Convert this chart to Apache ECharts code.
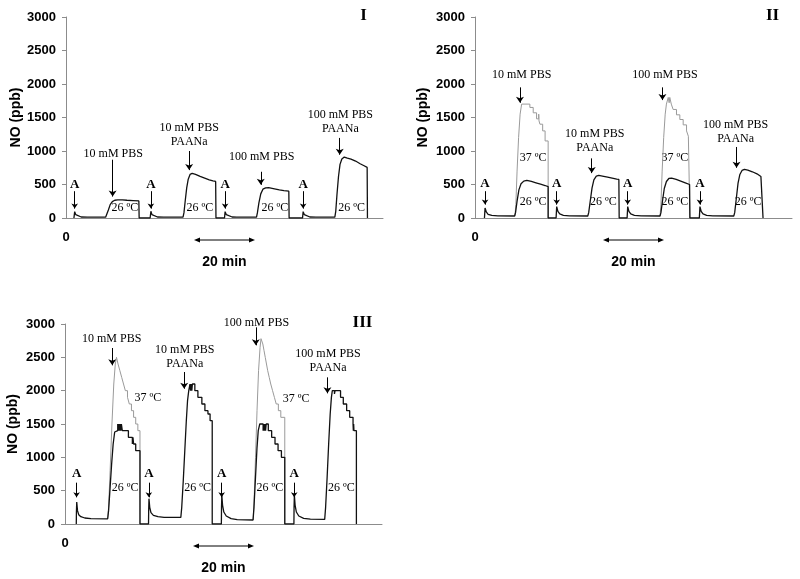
<!DOCTYPE html>
<html>
<head>
<meta charset="utf-8">
<script src="https://cdn.jsdelivr.net/npm/echarts@6/dist/echarts.min.js"></script>
<style>
html, body { margin: 0; padding: 0; background: #fff; }
#main { width: 800px; height: 579px; }
</style>
</head>
<body>
<div id="main"></div>
<script>
// x = time (min), y = NO (ppb)
const sans = '"Liberation Sans", Arial, sans-serif'
const serif = '"Liberation Serif", "Times New Roman", serif'

const yTicks = { min: 0, max: 3000, step: 500 }
const xRange = { min: 0, max: 104 }
const scaleBar = [42, 62] // 20 min

// panel I : 26 C only
const traceIBlack = [
  [2.6,0],[2.85,95],[3.2,50],[3.8,25],[5,15],[7,12],[13.0,12],[13.4,40],[13.9,120],[14.5,200],[15.2,245],[16.0,265],[17.0,272],[18.5,270],[20,265],[22,260],[23.9,255],[24.0,0],
  [27.6,0],[27.85,100],[28.2,50],[28.8,25],[30,15],[32,12],[38.4,12],[38.7,80],[39.1,250],[39.6,450],[40.1,580],[40.7,650],[41.4,665],[42.5,650],[44,620],[45.5,595],[47,570],[48.2,555],[49.1,545],[49.2,0],
  [52.0,0],[52.2,95],[52.6,50],[53.2,25],[54.5,15],[56,12],[62.5,12],[62.8,80],[63.3,230],[63.9,360],[64.6,430],[65.5,450],[66.5,452],[68,440],[70,420],[71.5,410],[73.1,400],[73.2,0],
  [77.6,0],[77.8,95],[78.2,50],[78.8,25],[80,15],[82,12],[88.2,12],[88.5,100],[88.9,350],[89.4,620],[89.9,800],[90.5,880],[91.3,910],[92.3,895],[93.5,880],[95,850],[96.5,810],[97.8,780],[98.8,755],[98.9,0]
]

// panel II : 26 C (black) and 37 C (grey)
const traceIIBlack = [
  [3.1,0],[3.3,150],[3.7,90],[4.3,55],[5.5,40],[7.5,32],[13.0,30],[13.3,80],[13.8,250],[14.4,420],[15.1,510],[16.0,550],[17.0,560],[18.5,545],[20,525],[21.5,505],[23,485],[24.0,470],[24.0,0],
  [26.6,0],[26.8,170],[27.2,100],[27.8,60],[29,40],[31,32],[37.0,30],[37.3,80],[37.8,250],[38.4,450],[39.0,570],[39.8,625],[40.6,635],[41.8,625],[43.5,610],[45,595],[46.5,580],[47.2,575],[47.3,0],
  [49.9,0],[50.1,170],[50.5,100],[51.1,60],[52.3,40],[54.5,32],[60.7,30],[61.0,80],[61.5,250],[62.1,440],[62.8,545],[63.6,590],[64.5,595],[66,575],[67.5,550],[69,525],[70.4,500],[70.5,0],
  [73.6,0],[73.8,170],[74.2,100],[74.8,60],[76,40],[78,32],[84.9,30],[85.2,80],[85.7,280],[86.3,520],[86.9,650],[87.6,710],[88.4,725],[89.5,715],[91,690],[92.5,660],[93.8,620],[94.4,600],[94.5,0]
]
const traceIIGrey = [
  [13.1,30],[13.4,200],[13.8,700],[14.3,1200],[14.8,1550],[15.3,1700],[18.0,1700],[18.0,1650],[19.1,1650],[19.1,1570],[20.2,1570],[20.2,1480],[20.9,1480],[20.9,1550],[21.0,1450],[21.3,1450],[21.3,1400],[22.2,1400],[22.2,1300],[23.0,1300],[23.0,1150],[24.0,1150],[24.0,0],
  [24.1,'-'],
  [60.7,30],[61.0,200],[61.4,700],[61.9,1200],[62.4,1550],[62.8,1700],[63.4,1700],[63.4,1800],[63.7,1800],[63.7,1720],[63.9,1800],[64.4,1800],[64.4,1700],[65.0,1700],[65.0,1620],[66.1,1620],[66.1,1540],[67.2,1540],[67.2,1470],[68.3,1470],[68.3,1390],[69.4,1390],[69.4,1300],[70.0,1300],[70.0,1220],[70.5,1220],[70.5,0]
]

// panel III : 26 C (black) and 37 C (grey)
const traceIIIBlack = [
  [3.7,0],[3.75,180],[3.85,330],[4.1,200],[4.5,140],[5.2,110],[6.5,90],[8.5,80],[14.0,78],[14.3,200],[14.8,550],[15.3,900],[15.8,1200],[16.3,1380],[16.6,1400],[17.3,1400],[17.3,1500],[17.5,1500],[17.5,1400],[17.7,1400],[17.7,1500],[17.9,1500],[17.9,1400],[18.1,1400],[18.1,1500],[18.3,1500],[18.3,1400],[18.5,1400],[18.5,1500],[18.8,1500],[18.8,1400],[20.8,1400],[20.8,1300],[22.1,1300],[22.1,1200],[22.3,1200],[22.3,1300],[22.5,1300],[22.5,1200],[23.2,1200],[23.2,1100],[24.6,1100],[24.6,0],
  [27.4,0],[27.45,200],[27.55,380],[27.8,250],[28.2,170],[29,130],[30.5,110],[32.5,100],[38.0,100],[38.3,250],[38.8,650],[39.3,1100],[39.8,1550],[40.2,1850],[40.6,2000],[41.0,2000],[41.0,2100],[41.2,2100],[41.2,2000],[41.4,2000],[41.4,2100],[41.6,2100],[41.6,2000],[41.8,2000],[41.8,2100],[42.6,2100],[42.6,2000],[43.6,2000],[43.6,1900],[44.9,1900],[44.9,1800],[45.9,1800],[45.9,1700],[46.9,1700],[46.9,1650],[47.6,1650],[47.6,1550],[48.3,1550],[48.3,0],
  [51.3,0],[51.35,250],[51.45,430],[51.7,280],[52.1,180],[52.9,120],[54.5,80],[56.5,65],[61.7,60],[62.0,250],[62.5,700],[63.0,1150],[63.4,1400],[63.9,1400],[63.9,1500],[65.0,1500],[65.0,1400],[65.2,1400],[65.2,1500],[65.4,1500],[65.4,1400],[65.6,1400],[65.6,1500],[65.8,1500],[65.8,1400],[66.0,1400],[66.0,1500],[66.7,1500],[66.7,1400],[67.8,1400],[67.8,1300],[68.9,1300],[68.9,1200],[69.9,1200],[69.9,1100],[71.0,1100],[71.0,1000],[72.1,1000],[72.1,0],
  [75.1,0],[75.15,250],[75.25,430],[75.5,280],[75.9,180],[76.7,120],[78.3,85],[80.5,72],[85.2,70],[85.5,250],[86.0,700],[86.5,1200],[87.0,1650],[87.4,1900],[87.7,2000],[88.4,2000],[88.4,1950],[88.6,1950],[88.6,2000],[90.4,2000],[90.4,1900],[91.3,1900],[91.3,1800],[92.4,1800],[92.4,1700],[93.4,1700],[93.4,1600],[94.5,1600],[94.5,1500],[94.6,1500],[94.6,1400],[94.7,1400],[94.7,1500],[94.8,1500],[94.8,1400],[95.6,1400],[95.6,0]
]
const traceIIIGrey = [
  [14.0,80],[14.3,250],[14.8,800],[15.4,1500],[16.0,2100],[16.5,2400],[16.9,2500],[17.4,2500],[17.4,2400],[18.0,2400],[18.0,2300],[18.6,2300],[18.6,2200],[19.2,2200],[19.2,2100],[19.8,2100],[19.8,2000],[20.5,2000],[20.5,1900],[21.1,1900],[21.1,1800],[21.8,1800],[21.8,1700],[22.5,1700],[22.5,1600],[23.2,1600],[23.2,1500],[23.9,1500],[23.9,1400],[24.6,1400],[24.6,0],
  [24.7,'-'],
  [61.7,60],[62.0,300],[62.5,1000],[63.0,1700],[63.5,2300],[64.0,2650],[64.3,2780],[64.5,2800],[64.9,2800],[64.9,2700],[65.3,2700],[65.3,2600],[65.7,2600],[65.7,2500],[66.1,2500],[66.1,2400],[66.5,2400],[66.5,2300],[67.0,2300],[67.0,2200],[67.5,2200],[67.5,2100],[68.1,2100],[68.1,2000],[68.7,2000],[68.7,1900],[69.3,1900],[69.3,1800],[70.0,1800],[70.0,1700],[70.8,1700],[70.8,1600],[72.1,1600],[72.1,0]
]

// annotations: [x, y, text] and arrows [x, yFrom, yTo]
const labelsI = [[15.5,955,'10 mM PBS'],[40.4,1240,'10 mM PBS\nPAANa'],[64.2,920,'100 mM PBS'],[90.0,1430,'100 mM PBS\nPAANa'],
  [19.3,150,'26 ºC'],[43.9,150,'26 ºC'],[68.5,150,'26 ºC'],[93.7,150,'26 ºC']]
const arrowsI = [[15.3,870,320],[40.4,1000,715],[63.9,690,495],[89.8,1195,945]]
const injectI = [2.85, 27.85, 52.2, 77.8]

const labelsII = [[15.3,2130,'10 mM PBS'],[62.3,2130,'100 mM PBS'],[39.3,1150,'10 mM PBS\nPAANa'],[85.5,1290,'100 mM PBS\nPAANa'],
  [19.1,900,'37 ºC'],[65.6,900,'37 ºC'],[19.1,240,'26 ºC'],[42.1,240,'26 ºC'],[65.6,240,'26 ºC'],[89.6,240,'26 ºC']]
const arrowsII = [[14.75,1950,1720],[61.5,1950,1760],[38.3,890,670],[85.8,1060,750]]
const injectII = [3.3, 26.8, 50.1, 73.8]

const labelsIII = [[15.3,2780,'10 mM PBS'],[62.8,3015,'100 mM PBS'],[39.3,2506,'10 mM PBS\nPAANa'],[86.3,2446,'100 mM PBS\nPAANa'],
  [27.2,1885,'37 ºC'],[75.8,1870,'37 ºC'],[19.7,535,'26 ºC'],[43.5,535,'26 ºC'],[67.2,535,'26 ºC'],[90.7,535,'26 ºC']]
const arrowsIII = [[15.5,2640,2380],[62.6,2950,2680],[39.1,2280,2030],[86.1,2200,1960]]
const injectIII = [3.8, 27.5, 51.4, 75.2]

const panels = [
  { title: 'I', black: traceIBlack, grey: null, labels: labelsI, arrows: arrowsI, inject: injectI, aY: [500, 400, 140], grid: { left: 66, top: 17, width: 317, height: 201 }, nameGap: 40 },
  { title: 'II', black: traceIIBlack, grey: traceIIGrey, labels: labelsII, arrows: arrowsII, inject: injectII, aY: [520, 400, 200], grid: { left: 475, top: 17, width: 317, height: 201 }, nameGap: 45 },
  { title: 'III', black: traceIIIBlack, grey: traceIIIGrey, labels: labelsIII, arrows: arrowsIII, inject: injectIII, aY: [750, 620, 400], grid: { left: 65, top: 324, width: 317, height: 200 }, nameGap: 45 }
]

const chart = echarts.init(document.getElementById('main'))

const plainLabel = {
  show: true, position: 'inside', formatter: q => q.value[2], color: '#000',
  textBorderWidth: 0, textBorderColor: 'transparent', textShadowBlur: 0
}

const grid = [], xAxis = [], yAxis = [], series = []
panels.forEach((p, i) => {
  grid.push(p.grid)
  xAxis.push({
    type: 'value', gridIndex: i, min: xRange.min, max: xRange.max, interval: xRange.max,
    axisLine: { lineStyle: { color: '#8c8c8c', width: 1 } },
    axisTick: { show: false }, splitLine: { show: false },
    axisLabel: { formatter: v => v === 0 ? '0' : '', margin: 13, color: '#000', fontFamily: sans, fontWeight: 'bold', fontSize: 13 }
  })
  yAxis.push({
    type: 'value', gridIndex: i, min: yTicks.min, max: yTicks.max, interval: yTicks.step,
    name: 'NO (ppb)', nameLocation: 'middle', nameGap: p.nameGap,
    nameTextStyle: { color: '#000', fontFamily: sans, fontWeight: 'bold', fontSize: 14 },
    axisLine: { show: true, lineStyle: { color: '#8c8c8c', width: 1 } },
    axisTick: { show: true, length: 4, lineStyle: { color: '#8c8c8c' } },
    splitLine: { show: false },
    axisLabel: { margin: 10, formatter: v => String(v), color: '#000', fontFamily: sans, fontWeight: 'bold', fontSize: 13 }
  })
  if (p.grey) {
    series.push({
      type: 'line', xAxisIndex: i, yAxisIndex: i, data: p.grey, showSymbol: false, symbol: 'none',
      lineStyle: { color: '#9a9a9a', width: 1 }, animation: false, silent: true
    })
  }
  series.push({
    type: 'line', xAxisIndex: i, yAxisIndex: i, data: p.black, showSymbol: false, symbol: 'none',
    lineStyle: { color: '#111', width: 1.3 }, animation: false, silent: true
  })
  // text labels + arrows
  series.push({
    type: 'scatter', xAxisIndex: i, yAxisIndex: i, symbolSize: 0, clip: false, silent: true, animation: false,
    itemStyle: { color: '#000', opacity: 1 },
    data: p.labels.map(l => [l[0], l[1], l[2]]),
    label: Object.assign({}, plainLabel, { fontFamily: serif, fontSize: 12, lineHeight: 14 }),
    markLine: {
      silent: true, animation: false, symbol: ['none', 'arrow'], symbolSize: 6,
      lineStyle: { color: '#000', width: 1, type: 'solid', opacity: 1 }, label: { show: false },
      data: p.arrows.map(a => [{ coord: [a[0], a[1]] }, { coord: [a[0], a[2]] }])
    }
  })
  // "A" injection marks and the panel letter
  series.push({
    type: 'scatter', xAxisIndex: i, yAxisIndex: i, symbolSize: 0, clip: false, silent: true, animation: false,
    itemStyle: { color: '#000', opacity: 1 },
    data: p.inject.map(x => [x, p.aY[0], 'A']).concat([{
      value: [97.6, 3025, p.title], label: { fontSize: 17 }
    }]),
    label: Object.assign({}, plainLabel, { fontFamily: serif, fontWeight: 'bold', fontSize: 13 }),
    markLine: {
      silent: true, animation: false, symbol: ['none', 'arrow'], symbolSize: 5,
      lineStyle: { color: '#000', width: 1, type: 'solid', opacity: 1 }, label: { show: false },
      data: p.inject.map(x => [{ coord: [x, p.aY[1]] }, { coord: [x, p.aY[2]] }])
    }
  })
})

chart.setOption({
  backgroundColor: '#fff',
  animation: false,
  grid, xAxis, yAxis, series
})

// the 20 min scale bars under each panel
const graphic = []
panels.forEach((p, i) => {
  const a = chart.convertToPixel({ gridIndex: i }, [scaleBar[0], 0])
  const b = chart.convertToPixel({ gridIndex: i }, [scaleBar[1], 0])
  const y = a[1] + 22
  graphic.push({ type: 'line', shape: { x1: a[0] + 3, y1: y, x2: b[0] - 3, y2: y }, style: { stroke: '#000', lineWidth: 1 } })
  graphic.push({ type: 'polygon', shape: { points: [[a[0], y], [a[0] + 6, y - 2.5], [a[0] + 6, y + 2.5]] }, style: { fill: '#000' } })
  graphic.push({ type: 'polygon', shape: { points: [[b[0], y], [b[0] - 6, y - 2.5], [b[0] - 6, y + 2.5]] }, style: { fill: '#000' } })
  graphic.push({ type: 'text', x: (a[0] + b[0]) / 2, y: a[1] + 44, style: { text: '20 min', fill: '#000', font: 'bold 14px ' + sans, align: 'center', verticalAlign: 'middle' } })
})
chart.setOption({ graphic })
</script>
</body>
</html>
